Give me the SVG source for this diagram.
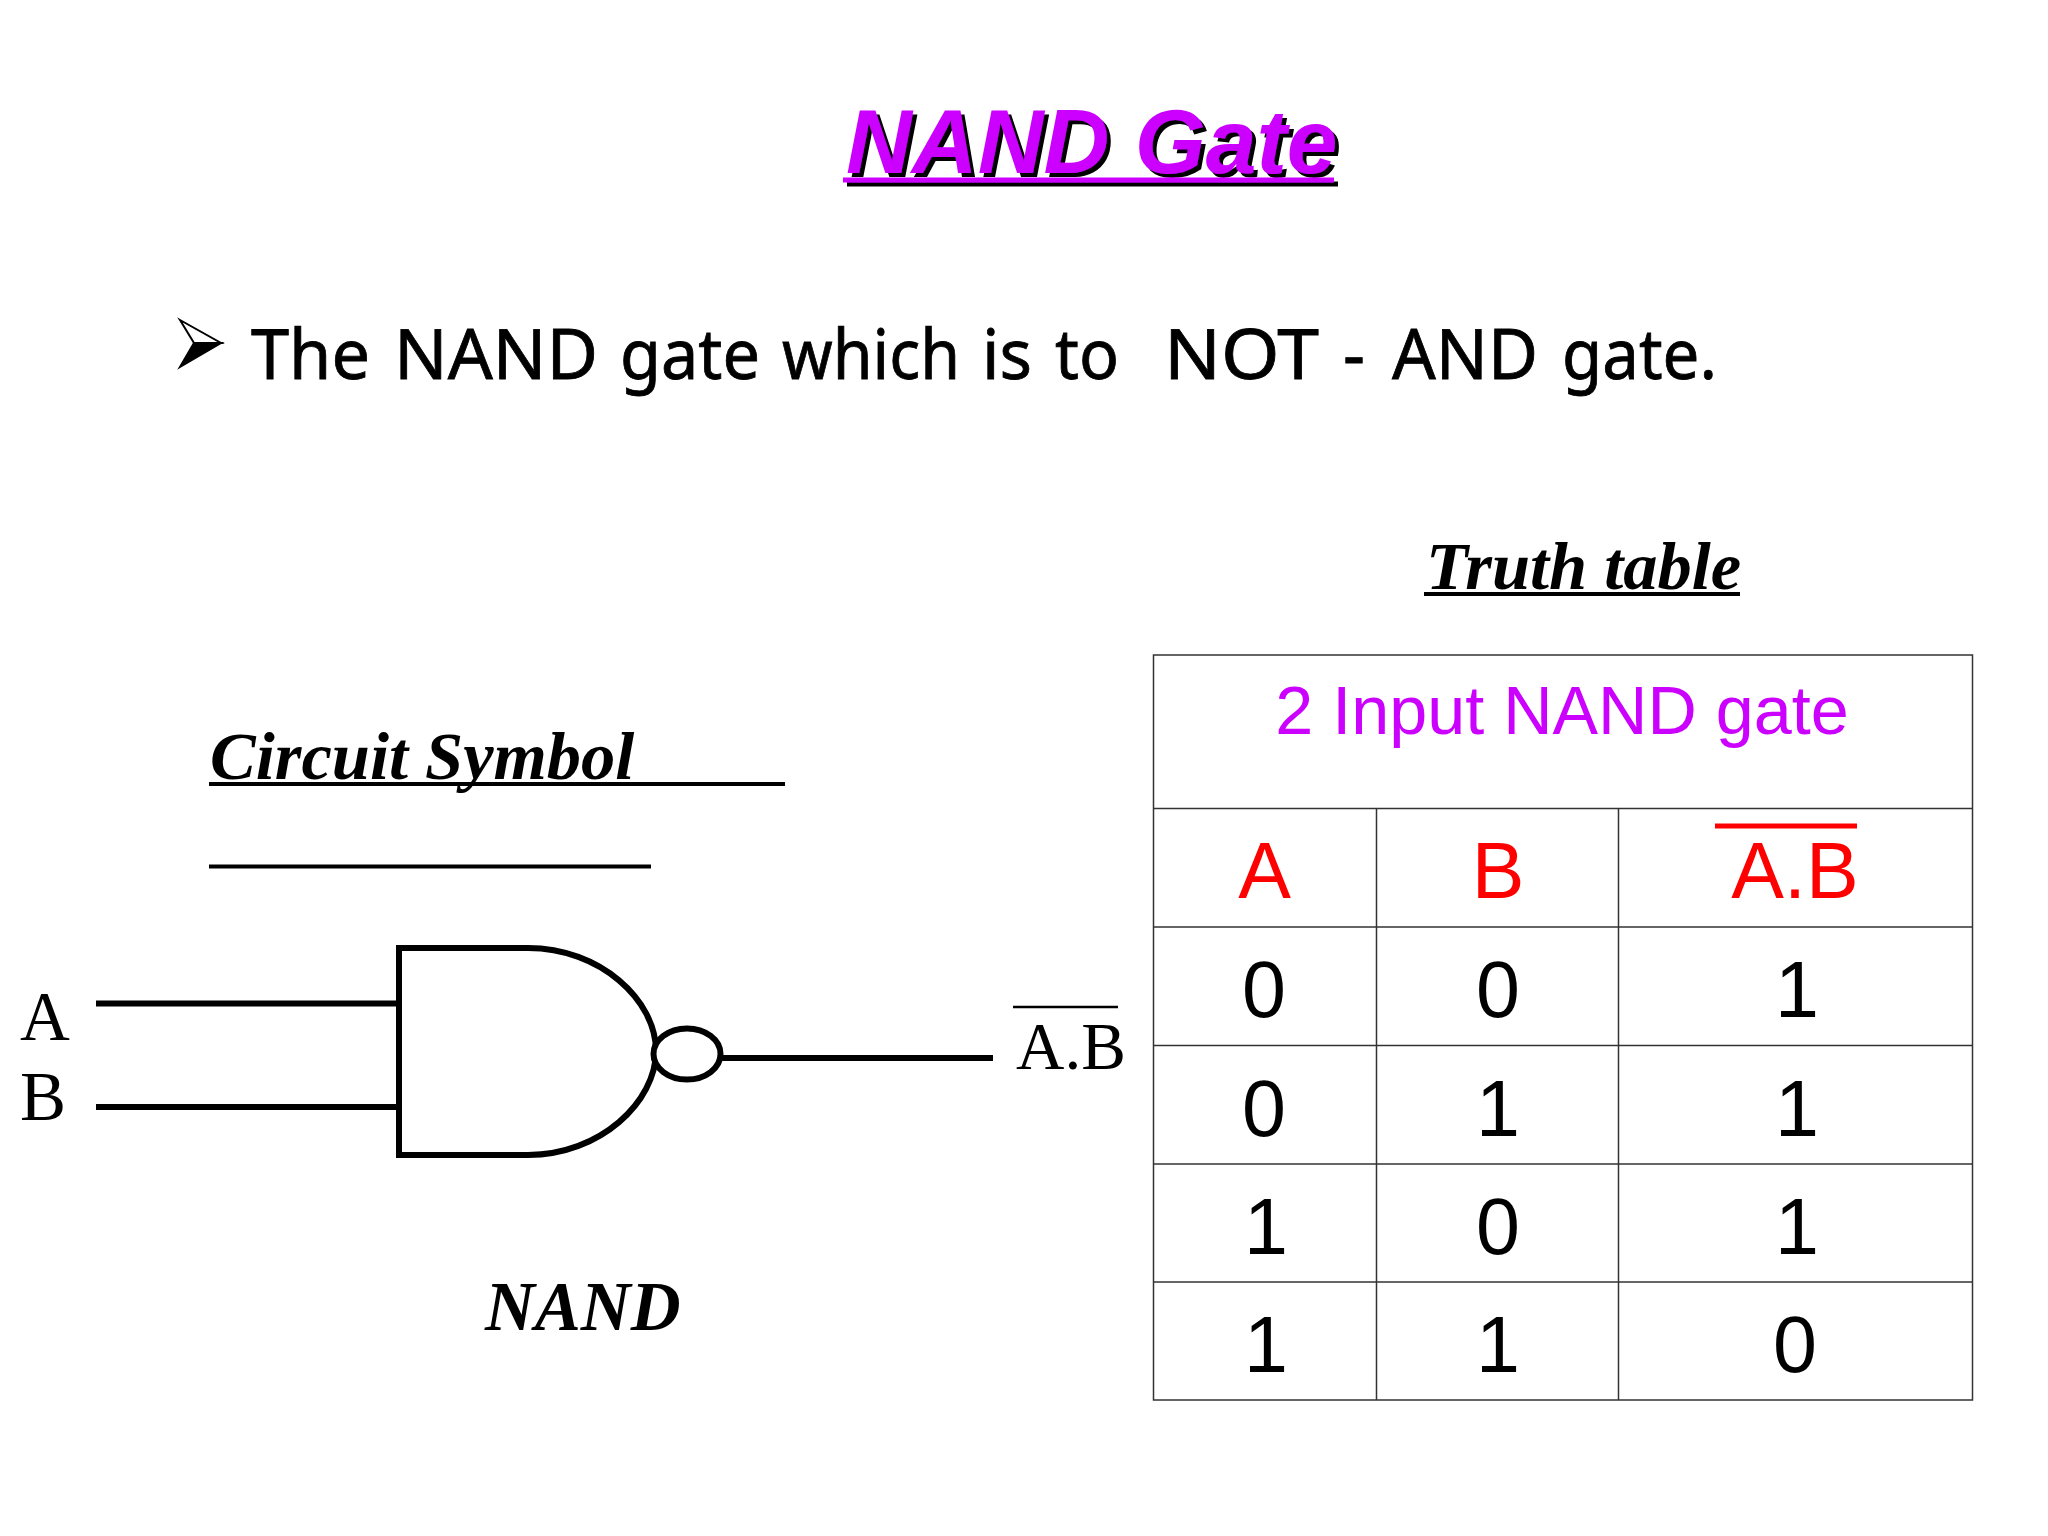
<svg xmlns="http://www.w3.org/2000/svg" width="2048" height="1536" viewBox="0 0 2048 1536">
<defs>
<filter id="shadow" x="-5%" y="-20%" width="110%" height="140%"><feDropShadow dx="4" dy="4" stdDeviation="0" flood-color="#000" flood-opacity="1"/></filter>
</defs>
<style>
.sans{font-family:"Liberation Sans",Arial,sans-serif}
.serif{font-family:"Liberation Serif","Times New Roman",serif}
.bi{font-weight:bold;font-style:italic}
.cell{font-family:"Liberation Sans",Arial,sans-serif;font-size:79px;text-anchor:middle;fill:#000}
.head{fill:#f00}
.grid{stroke:#333;stroke-width:1.5;fill:none}
.wire{stroke:#000;stroke-width:6;fill:none}
.sym{stroke:#000;stroke-width:6;fill:#fff}
.lab{font-family:"Liberation Serif","Times New Roman",serif;font-size:69px;fill:#000}
</style>
<rect width="2048" height="1536" fill="#fff"/>
<g id="title" filter="url(#shadow)">
<text class="sans bi" x="846" y="173" font-size="91.200" fill="#c0f">NAND Gate</text>
<line x1="843" y1="180" x2="1334" y2="180" stroke="#c0f" stroke-width="5"/>
</g>
<g id="bullet">
<path d="M180 320L221 343L194 343Z" fill="#fff" stroke="#000" stroke-width="2"/>
<path d="M180 367L221 343L194 343Z" fill="#000" stroke="#000" stroke-width="2"/>
<text y="379" font-family="'Noto Sans',sans-serif" font-size="70" stroke="#000" stroke-width="0.800" style="white-space:pre" fill="#000" lengthAdjust="spacingAndGlyphs"><tspan x="251" textLength="119" lengthAdjust="spacingAndGlyphs">The</tspan> <tspan x="394" textLength="204" lengthAdjust="spacingAndGlyphs">NAND</tspan> <tspan x="620" textLength="140" lengthAdjust="spacingAndGlyphs">gate</tspan> <tspan x="782" textLength="178" lengthAdjust="spacingAndGlyphs">which</tspan> <tspan x="982" textLength="50" lengthAdjust="spacingAndGlyphs">is</tspan> <tspan x="1055" textLength="64" lengthAdjust="spacingAndGlyphs">to</tspan>  <tspan x="1164" textLength="155" lengthAdjust="spacingAndGlyphs">NOT</tspan> <tspan x="1343" textLength="22" lengthAdjust="spacingAndGlyphs">-</tspan> <tspan x="1392" textLength="146" lengthAdjust="spacingAndGlyphs">AND</tspan> <tspan x="1562" textLength="155" lengthAdjust="spacingAndGlyphs">gate.</tspan></text>
</g>
<g id="truth-table-title">
<text class="serif bi" x="1426" y="589" font-size="68.500" fill="#000">Truth table</text>
<line x1="1424" y1="594" x2="1740" y2="594" stroke="#000" stroke-width="4"/>
</g>
<g id="circuit-symbol-title">
<text class="serif bi" x="210" y="779" font-size="68.500" fill="#000">Circuit Symbol</text>
<line x1="209" y1="784" x2="785" y2="784" stroke="#000" stroke-width="4"/>
<line x1="209" y1="866.500" x2="651" y2="866.500" stroke="#000" stroke-width="4"/>
</g>
<g id="connectors">
<line class="wire" x1="96" y1="1003.500" x2="396" y2="1003.500"/>
<line class="wire" x1="96" y1="1107" x2="398" y2="1107"/>
<line class="wire" x1="715" y1="1058" x2="993" y2="1058"/>
</g>
<g id="nand-gate">
<path class="sym" d="M399 948H528C600 948 656 1000 656 1051C656 1102 600 1155 528 1155H399Z"/>
<ellipse class="sym" cx="687" cy="1054" rx="33.500" ry="25.500"/>
</g>
<g id="label-a"><text class="lab" x="20" y="1040">A</text></g>
<g id="label-b"><text class="lab" x="20" y="1120">B</text></g>
<g id="label-output">
<text class="lab" x="1016" y="1069" font-size="67" style="font-size:67px">A.B</text>
<line x1="1013" y1="1007" x2="1118" y2="1007" stroke="#000" stroke-width="2.500"/>
</g>
<g id="label-nand"><text class="serif bi" x="485" y="1330" font-size="69" fill="#000">NAND</text></g>
<g id="truth-table">
<rect class="grid" x="1153.500" y="655" width="819" height="745"/>
<path class="grid" d="M1153 808.500H1972M1153 927H1972M1153 1045.500H1972M1153 1164H1972M1153 1282H1972M1376.500 808V1400M1618.500 808V1400"/>
<text class="sans" x="1562" y="734" font-size="68.300" text-anchor="middle" fill="#c0f">2 Input NAND gate</text>
<text class="cell head" x="1264.500" y="898">A</text>
<text class="cell head" x="1498" y="898">B</text>
<text class="cell head" x="1795" y="898">A.B</text>
<line x1="1715" y1="826" x2="1857" y2="826" stroke="#f00" stroke-width="5"/>
<text class="cell" x="1264" y="1017">0</text><text class="cell" x="1498" y="1017">0</text><text class="cell" x="1797" y="1017">1</text>
<text class="cell" x="1264" y="1136">0</text><text class="cell" x="1498" y="1136">1</text><text class="cell" x="1797" y="1136">1</text>
<text class="cell" x="1266" y="1254">1</text><text class="cell" x="1498" y="1254">0</text><text class="cell" x="1797" y="1254">1</text>
<text class="cell" x="1266" y="1372">1</text><text class="cell" x="1498" y="1372">1</text><text class="cell" x="1795" y="1372">0</text>
</g>
</svg>
